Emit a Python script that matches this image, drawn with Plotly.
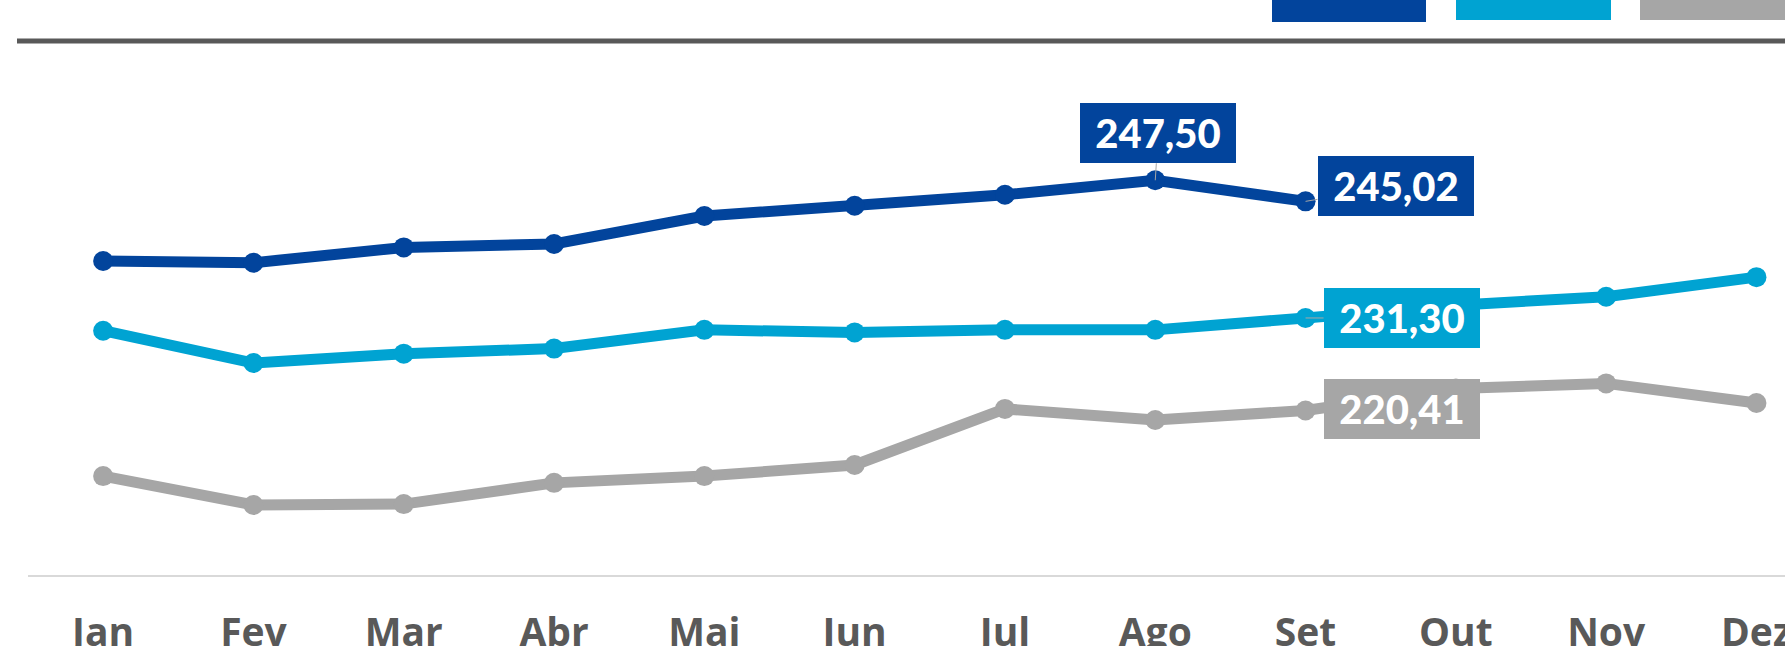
import plotly.graph_objects as go

meses = ["Jan", "Fev", "Mar", "Abr", "Mai", "Jun", "Jul", "Ago", "Set", "Out", "Nov", "Dez"]
anos = ["2022", "2021", "2020"]
v2022 = [238.0, 237.8, 239.6, 240.0, 243.3, 244.5, 245.8, 247.50, 245.02]
v2021 = [229.8, 226.0, 227.1, 227.7, 229.9, 229.6, 229.9, 229.9, 231.30, 232.8, 233.8, 236.1]
v2020 = [212.7, 209.3, 209.4, 211.9, 212.7, 214.0, 220.6, 219.3, 220.41, 223.0, 223.6, 221.3]

cores = ["#02449C", "#00A3D2", "#A6A6A6"]
series = [v2022, v2021, v2020]

W, H = 1785, 646
ML, MT, MB = 28, 60, 71
plot_w = W - ML
plot_h = H - MT - MB


def px(x):
    return (x - ML) / plot_w


def py(y):
    return (H - MB - y) / plot_h


fig = go.Figure()
# older years drawn first so 2022 sits on top
for nome, vals, cor in list(zip(anos, series, cores))[::-1]:
    fig.add_trace(go.Scatter(
        x=meses[:len(vals)], y=vals, name=nome, mode="lines+markers",
        line=dict(color=cor, width=11),
        marker=dict(color=cor, size=20),
        hoverinfo="skip",
    ))

fonte_rot = dict(family="Lato, Open Sans, sans-serif", size=40, color="white", weight=900)


def rotulo(serie, mes, cor, ax, ay):
    vals = series[serie]
    i = meses.index(mes)
    fig.add_annotation(
        x=mes, y=vals[i], ax=ax, ay=ay,
        text=f"{vals[i]:.2f}".replace(".", ","),
        showarrow=True, arrowhead=0, arrowwidth=1, arrowcolor="#A6A6A6",
        bgcolor=cor, width=156, height=60, borderpad=0, borderwidth=0,
        font=fonte_rot,
    )


rotulo(0, "Ago", cores[0], 3, -47)
rotulo(0, "Set", cores[0], 90, -15)
rotulo(1, "Set", cores[1], 96, 0)
rotulo(2, "Set", cores[2], 96, -2)

# thick rule under the (cropped) header
fig.add_shape(type="line", xref="paper", yref="paper",
              x0=px(17), x1=px(W + 5), y0=py(41), y1=py(41),
              line=dict(color="#595959", width=5))

# legend boxes, mostly above the visible area
caixas = [(1272, 1426, 22), (1456, 1611, 20), (1640, 1790, 20)]
for (x0, x1, yb), cor, nome in zip(caixas, cores, anos):
    fig.add_shape(type="rect", xref="paper", yref="paper",
                  x0=px(x0), x1=px(x1), y0=py(yb), y1=py(-40),
                  fillcolor=cor, line=dict(width=0))
    fig.add_annotation(xref="paper", yref="paper", x=px((x0 + x1) / 2), y=py(yb - 12),
                       yanchor="bottom", text=nome, showarrow=False, font=fonte_rot)

fig.update_layout(
    width=W, height=H,
    margin=dict(l=ML, r=0, t=MT, b=MB),
    paper_bgcolor="white", plot_bgcolor="white",
    showlegend=False,
    xaxis=dict(
        type="category", categoryorder="array", categoryarray=meses,
        range=[-0.5, plot_w / 150.3 - 0.5],
        showgrid=False, zeroline=False, automargin=False,
        showline=True, linecolor="#D9D9D9", linewidth=2,
        ticks="", ticklabelstandoff=22,
        tickfont=dict(family="Liberation Sans Narrow, Open Sans, sans-serif", size=39, color="#595959", weight="bold"),
    ),
    yaxis=dict(range=[201.06, 261.65], visible=False, showgrid=False, zeroline=False, automargin=False),
)

fig.write_html("out.html", config={"displayModeBar": False},
               post_script="document.body.style.margin='0';")
